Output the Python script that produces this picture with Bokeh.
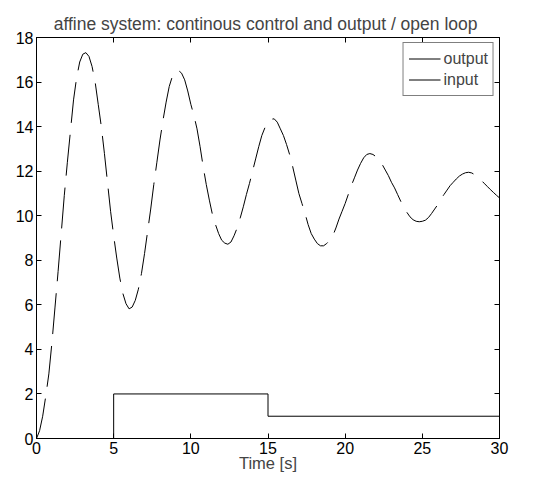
from bokeh.plotting import figure
from bokeh.models import Range1d, LinearAxis, FixedTicker, Legend, LegendItem, ColumnDataSource
from bokeh.embed import file_html
from bokeh.resources import INLINE

# ---- data ----
t_out = [0.0, 0.2, 0.4, 0.6, 0.8, 1.0, 1.2, 1.4, 1.6, 1.8,
         2.0, 2.2, 2.4, 2.6, 2.8, 3.0, 3.2, 3.4, 3.6, 3.8,
         4.0, 4.2, 4.4, 4.6, 4.8, 5.0, 5.2, 5.4, 5.6, 5.8,
         6.0, 6.2, 6.4, 6.6, 6.8, 7.0, 7.2, 7.4, 7.6, 7.8,
         8.0, 8.2, 8.4, 8.6, 8.8, 9.0, 9.2, 9.4, 9.6, 9.8,
         10.0, 10.2, 10.4, 10.6, 10.8, 11.0, 11.2, 11.4, 11.6, 11.8,
         12.0, 12.2, 12.4, 12.6, 12.8, 13.0, 13.2, 13.4, 13.6, 13.8,
         14.0, 14.2, 14.4, 14.6, 14.8, 15.0, 15.2, 15.4, 15.6, 15.8,
         16.0, 16.2, 16.4, 16.6, 16.8, 17.0, 17.2, 17.4, 17.6, 17.8,
         18.0, 18.2, 18.4, 18.6, 18.8, 19.0, 19.2, 19.4, 19.6, 19.8,
         20.0, 20.2, 20.4, 20.6, 20.8, 21.0, 21.2, 21.4, 21.6, 21.8,
         22.0, 22.2, 22.4, 22.6, 22.8, 23.0, 23.2, 23.4, 23.6, 23.8,
         24.0, 24.2, 24.4, 24.6, 24.8, 25.0, 25.2, 25.4, 25.6, 25.8,
         26.0, 26.2, 26.4, 26.6, 26.8, 27.0, 27.2, 27.4, 27.6, 27.8,
         28.0, 28.2, 28.4, 28.6, 28.8, 29.0, 29.2, 29.4, 29.6, 29.8, 30.0]
y_out = [0.0, 0.35, 1.0, 1.9, 2.9, 4.3, 5.9, 7.5, 9.2, 10.9,
         12.4, 13.8, 15.2, 16.2, 16.9, 17.25, 17.32, 17.15, 16.7, 16.0,
         15.0, 14.0, 12.8, 11.5, 10.2, 9.1, 8.1, 7.2, 6.5, 6.05,
         5.82, 5.9, 6.2, 6.7, 7.4, 8.3, 9.3, 10.3, 11.4, 12.4,
         13.4, 14.3, 15.1, 15.8, 16.25, 16.48, 16.52, 16.4, 16.1, 15.6,
         15.0, 14.5, 13.9, 13.1, 12.2, 11.4, 10.7, 10.05, 9.6, 9.2,
         8.9, 8.77, 8.72, 8.82, 9.1, 9.45, 9.9, 10.4, 10.95, 11.45,
         12.0, 12.55, 13.1, 13.6, 13.95, 14.2, 14.33, 14.35, 14.2, 13.9,
         13.6, 13.2, 12.75, 12.2, 11.6, 11.0, 10.55, 10.1, 9.6, 9.2,
         8.95, 8.75, 8.65, 8.65, 8.75, 8.9, 9.1, 9.45, 9.85, 10.2,
         10.55, 10.95, 11.35, 11.7, 12.05, 12.35, 12.6, 12.75, 12.79, 12.75,
         12.65, 12.5, 12.3, 12.05, 11.8, 11.5, 11.25, 10.95, 10.65, 10.4,
         10.15, 9.95, 9.82, 9.75, 9.73, 9.75, 9.8, 9.92, 10.1, 10.3,
         10.5, 10.75, 10.95, 11.15, 11.35, 11.5, 11.65, 11.78, 11.87, 11.93,
         11.95, 11.92, 11.84, 11.72, 11.6, 11.46, 11.32, 11.18, 11.05, 10.92, 10.8]

t_in = [0, 5, 5, 15, 15, 30]
u_in = [0, 0, 2, 2, 1, 1]

x_ticks = [0, 5, 10, 15, 20, 25, 30]
y_ticks = [0, 2, 4, 6, 8, 10, 12, 14, 16, 18]

title_text = "affine system: continous control and output / open  loop"
x_label = "Time [s]"
series_names = ["output", "input"]

FONT = "Liberation Sans"

p = figure(width=540, height=483, output_backend="svg", toolbar_location=None,
           x_range=Range1d(0, 30), y_range=Range1d(0, 18),
           min_border_left=36, min_border_right=41, min_border_top=37, min_border_bottom=45,
           background_fill_color="white", border_fill_color="white")

p.title.text = title_text
p.title.text_font = FONT
p.title.text_font_size = "17.5px"
p.title.text_font_style = "normal"
p.title.align = "center"
p.title.standoff = 8

p.xgrid.visible = False
p.ygrid.visible = False
p.outline_line_color = "black"
p.outline_line_width = 1

src_out = ColumnDataSource(dict(t=t_out, y=y_out))
src_in = ColumnDataSource(dict(t=t_in, u=u_in))
r_out = p.line("t", "y", source=src_out, line_color="black", line_width=1, line_dash="41 12")
r_in = p.line("t", "u", source=src_in, line_color="black", line_width=1)

def style_axis(ax, labels=True):
    ax.major_tick_in = 5
    ax.major_tick_out = 0
    ax.minor_tick_line_color = None
    ax.axis_line_color = "black"
    ax.major_tick_line_color = "black"
    if labels:
        ax.major_label_text_font = FONT
        ax.major_label_text_font_size = "16px"
        ax.major_label_text_color = "black"
        ax.major_label_standoff = 3
    else:
        ax.major_label_text_font_size = "1px"
        ax.major_label_text_color = None
        ax.major_label_standoff = 0

xax = p.xaxis[0]
yax = p.yaxis[0]
xax.ticker = FixedTicker(ticks=x_ticks)
yax.ticker = FixedTicker(ticks=y_ticks)
style_axis(xax)
style_axis(yax)
xax.axis_label = x_label
xax.axis_label_text_font = FONT
xax.axis_label_text_font_size = "16.5px"
xax.axis_label_text_font_style = "normal"
xax.axis_label_standoff = -3

top = LinearAxis(ticker=FixedTicker(ticks=x_ticks))
right = LinearAxis(ticker=FixedTicker(ticks=y_ticks))
style_axis(top, labels=False)
style_axis(right, labels=False)
p.add_layout(top, "above")
p.add_layout(right, "right")

legend = Legend(items=[LegendItem(label=series_names[0], renderers=[r_out]),
                       LegendItem(label=series_names[1], renderers=[r_in])],
                location="top_right")
legend.label_text_font = FONT
legend.label_text_font_size = "16px"
legend.border_line_color = "black"
legend.border_line_width = 1
legend.padding = 5
legend.spacing = 0
legend.margin = 5
legend.glyph_width = 32
legend.glyph_height = 21
legend.label_height = 21
legend.label_standoff = 3
legend.background_fill_alpha = 1
p.add_layout(legend)

open("out.html", "w").write(file_html(p, INLINE))
